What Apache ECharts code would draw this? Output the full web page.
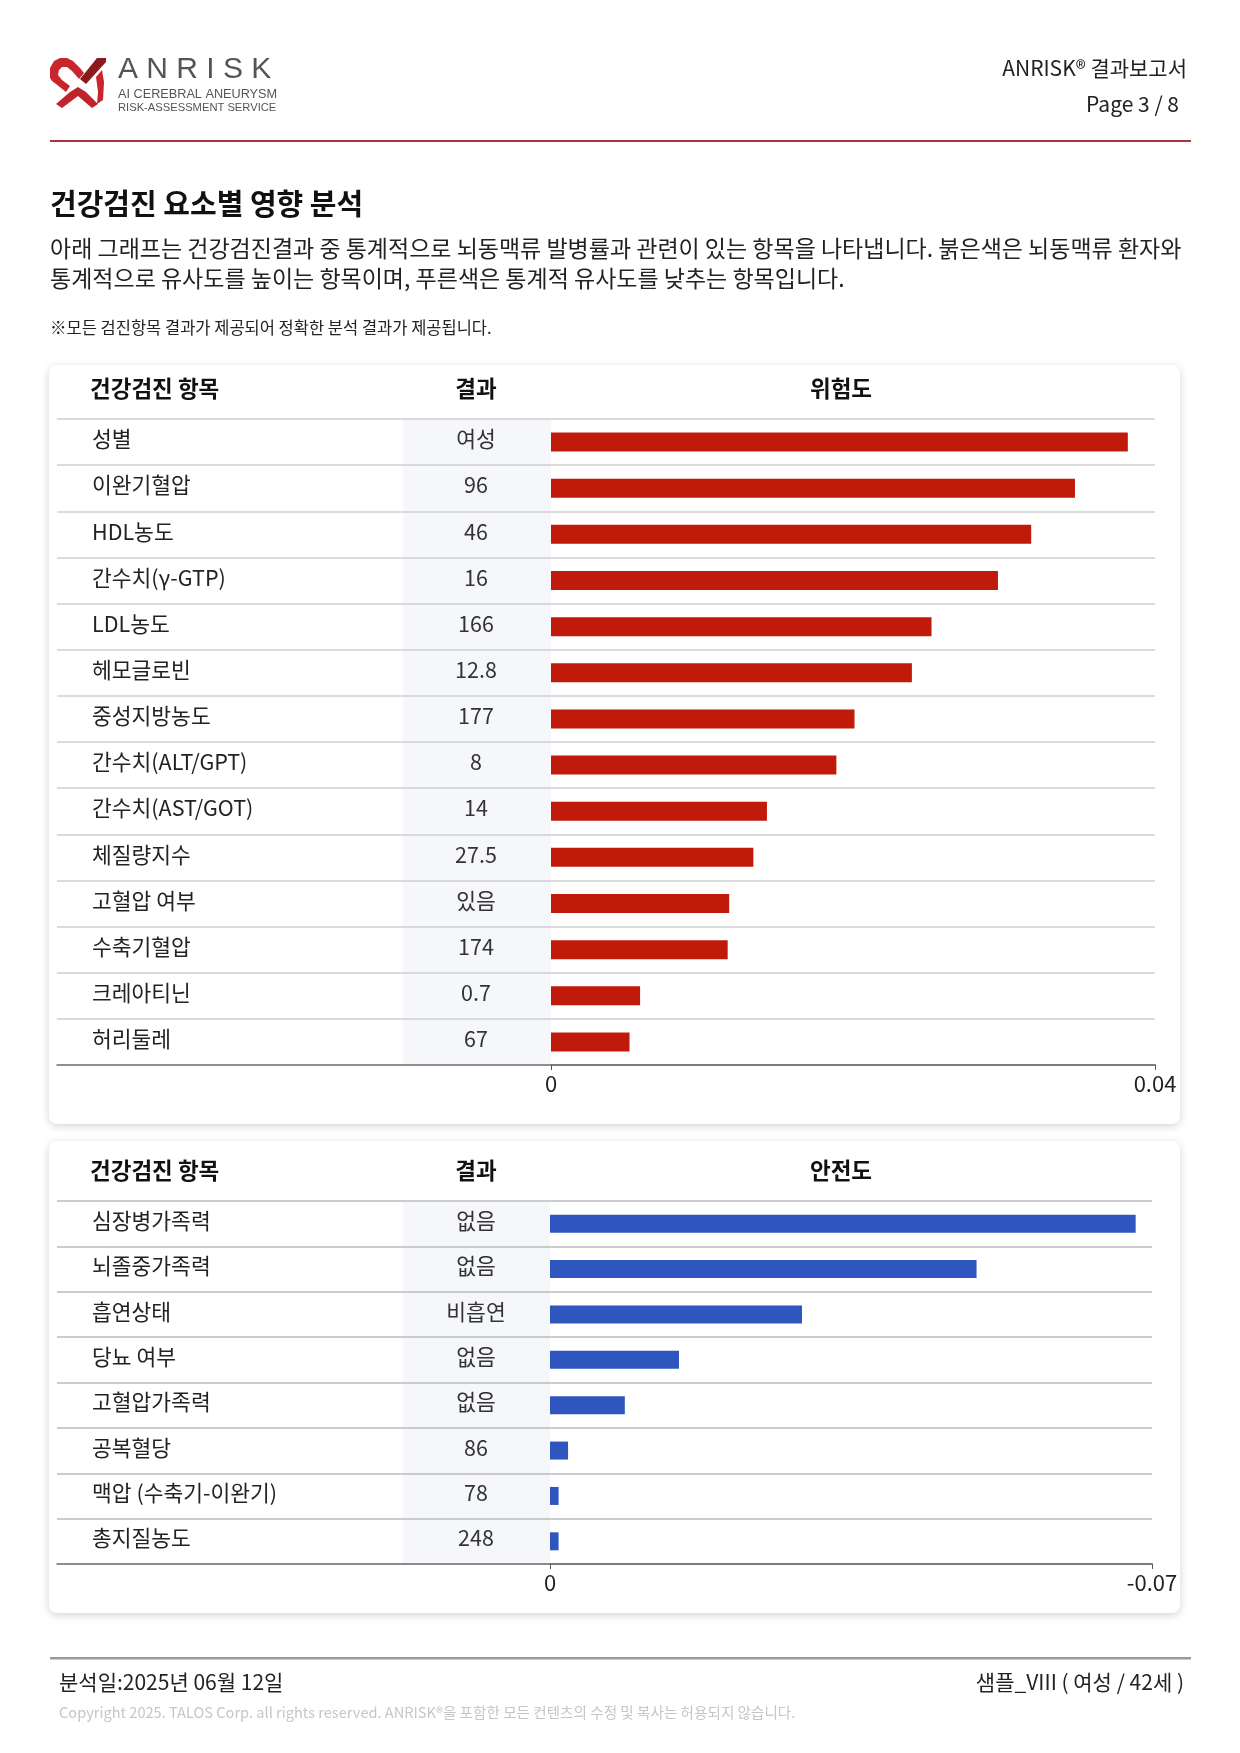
<!DOCTYPE html>
<html>
<head>
<meta charset="utf-8">
<script src="https://cdn.jsdelivr.net/npm/echarts@6/dist/echarts.min.js"></script>
<style>
html,body{margin:0;padding:0;background:#fff;}
#chart{width:1240px;height:1753px;}
</style>
</head>
<body>
<div id="chart"></div>
<script>
// ---- data ----
const riskItems = ['성별','이완기혈압','HDL농도','간수치(γ-GTP)','LDL농도','헤모글로빈','중성지방농도','간수치(ALT/GPT)','간수치(AST/GOT)','체질량지수','고혈압 여부','수축기혈압','크레아티닌','허리둘레'];
const riskResults = ['여성','96','46','16','166','12.8','177','8','14','27.5','있음','174','0.7','67'];
const riskValues = [0.0382,0.0347,0.0318,0.0296,0.0252,0.0239,0.0201,0.0189,0.0143,0.0134,0.0118,0.0117,0.0059,0.0052];
const riskAxis = {min:0, max:0.04};

const safeItems = ['심장병가족력','뇌졸중가족력','흡연상태','당뇨 여부','고혈압가족력','공복혈당','맥압 (수축기-이완기)','총지질농도'];
const safeResults = ['없음','없음','비흡연','없음','없음','86','78','248'];
const safeValues = [-0.0681,-0.0496,-0.0293,-0.0150,-0.0087,-0.0021,-0.0010,-0.0010];
const safeAxis = {min:-0.07, max:0};

// ---- styling ----
const FONT = '"Noto Sans CJK KR","Noto Sans",sans-serif';
const RED = '#c01a0b';
const BLUE = '#2f56be';

const chart = echarts.init(document.getElementById('chart'), null, {renderer:'canvas', width:1240, height:1753});

const T1 = {top:419, height:646};
const T2 = {top:1201, height:363};

function text(x,y,str,opt){
  return {type:'text', x:x, y:y, z:100, style:Object.assign({text:str, font:'400 20px '+FONT, fill:'#222', verticalAlign:'middle'}, opt||{})};
}
function poly(points, fill){
  return {type:'polygon', z:5, shape:{points:points}, style:{fill:fill}};
}

const graphics = [
  // cards
  {type:'rect', z:-10, shape:{x:49,y:365,width:1131,height:759,r:8}, style:{fill:'#fff', shadowBlur:8, shadowColor:'rgba(0,0,0,0.18)', shadowOffsetY:2}},
  {type:'rect', z:-10, shape:{x:49,y:1141,width:1131,height:472,r:8}, style:{fill:'#fff', shadowBlur:8, shadowColor:'rgba(0,0,0,0.18)', shadowOffsetY:2}},
  // result column shading
  {type:'rect', z:-5, shape:{x:403,y:T1.top,width:148,height:T1.height}, style:{fill:'#f5f7fb'}},
  {type:'rect', z:-5, shape:{x:403,y:T2.top,width:147,height:T2.height}, style:{fill:'#f5f7fb'}},
  // header rule
  {type:'rect', z:1, shape:{x:50,y:140,width:1141,height:2}, style:{fill:'#a8343c'}},
  // footer rule
  {type:'rect', z:1, shape:{x:50,y:1657,width:1141,height:2.5}, style:{fill:'#9a9a9a'}},
  // logo (approximation)
  poly([[50,78],[50,68],[54,61],[60,58],[67,58],[73,61],[80,68],[84,73],[79,79],[72,71],[67,67],[62,67],[59,70],[58,75],[62,80],[70,86],[66,92],[56,84],[52,81]], '#c8262c'),
  poly([[97,58],[106,58],[106,62],[86,84],[80,79]], '#8b1a1e'),
  poly([[56,104],[70,92],[78,87],[86,92],[98,104],[92,108],[78,96],[62,108]], '#c0232a'),
  poly([[96,77],[102,70],[104,82],[103,100],[97,104],[98,92]], '#c8262c'),
  text(118,70,'A N R I S K',{font:'300 30px "Liberation Sans","DejaVu Sans",sans-serif', fill:'#555'}),
  text(118,94,'AI CEREBRAL ANEURYSM',{font:'400 12.7px "Liberation Sans",sans-serif', fill:'#555'}),
  text(118,108,'RISK-ASSESSMENT SERVICE',{font:'400 11.2px "Liberation Sans",sans-serif', fill:'#555'}),
  text(1187,68,'ANRISK® 결과보고서',{font:'400 21px '+FONT, fill:'#222', align:'right'}),
  text(1179,104,'Page 3 / 8',{font:'400 21px '+FONT, fill:'#222', align:'right'}),
  // title & description
  text(50,204,'건강검진 요소별 영향 분석',{font:'700 29px '+FONT, fill:'#111'}),
  text(50,248,'아래 그래프는 건강검진결과 중 통계적으로 뇌동맥류 발병률과 관련이 있는 항목을 나타냅니다. 붉은색은 뇌동맥류 환자와',{font:'400 23px '+FONT, fill:'#222'}),
  text(50,278,'통계적으로 유사도를 높이는 항목이며, 푸른색은 통계적 유사도를 낮추는 항목입니다.',{font:'400 23px '+FONT, fill:'#222'}),
  text(50,328,'※모든 검진항목 결과가 제공되어 정확한 분석 결과가 제공됩니다.',{font:'400 16.5px '+FONT, fill:'#222'}),
  // table headers
  text(90,388,'건강검진 항목',{font:'700 22.5px '+FONT, fill:'#111'}),
  text(476,388,'결과',{font:'700 22.5px '+FONT, fill:'#111', align:'center'}),
  text(841,388,'위험도',{font:'700 22.5px '+FONT, fill:'#111', align:'center'}),
  text(90,1170,'건강검진 항목',{font:'700 22.5px '+FONT, fill:'#111'}),
  text(476,1170,'결과',{font:'700 22.5px '+FONT, fill:'#111', align:'center'}),
  text(841,1170,'안전도',{font:'700 22.5px '+FONT, fill:'#111', align:'center'}),
  // footer
  text(59,1682,'분석일:2025년 06월 12일',{font:'400 21px '+FONT, fill:'#222'}),
  text(1184,1682,'샘플_VIII ( 여성 / 42세 )',{font:'400 21px '+FONT, fill:'#222', align:'right'}),
  text(59,1712,'Copyright 2025. TALOS Corp. all rights reserved. ANRISK®을 포함한 모든 컨텐츠의 수정 및 복사는 허용되지 않습니다.',{font:'400 14.6px '+FONT, fill:'#c6c6c6'})
];

const rowLabel = {fontSize:21.5, fontFamily:FONT, verticalAlign:'bottom', lineHeight:6};
const option = {
  animation:false,
  textStyle:{fontFamily:FONT},
  graphic:{elements:graphics},
  grid:[
    {left:57, right:1240-1155, top:T1.top, height:T1.height},
    {left:551, right:1240-1155, top:T1.top, height:T1.height},
    {left:57, right:1240-1152, top:T2.top, height:T2.height},
    {left:550, right:1240-1152, top:T2.top, height:T2.height}
  ],
  xAxis:[
    {gridIndex:0, type:'value', min:0, max:1, z:3, axisLabel:{show:false}, axisTick:{show:false}, splitLine:{show:false}, axisLine:{show:true, lineStyle:{color:'#777', width:1.5}}},
    {gridIndex:1, type:'value', min:riskAxis.min, max:riskAxis.max, interval:riskAxis.max-riskAxis.min, z:3,
      axisLine:{show:true, lineStyle:{color:'#777', width:1.5}}, axisTick:{show:true, length:5, lineStyle:{color:'#555'}},
      splitLine:{show:false}, axisLabel:{fontSize:22, color:'#222', margin:8, fontFamily:FONT, showMinLabel:true, showMaxLabel:true}},
    {gridIndex:2, type:'value', min:0, max:1, z:3, axisLabel:{show:false}, axisTick:{show:false}, splitLine:{show:false}, axisLine:{show:true, lineStyle:{color:'#777', width:1.5}}},
    {gridIndex:3, type:'value', min:safeAxis.min, max:safeAxis.max, interval:safeAxis.max-safeAxis.min, inverse:true, z:3,
      axisLine:{show:true, lineStyle:{color:'#777', width:1.5}}, axisTick:{show:true, length:5, lineStyle:{color:'#555'}},
      splitLine:{show:false}, axisLabel:{fontSize:22, color:'#222', margin:8, fontFamily:FONT, showMinLabel:true, showMaxLabel:true}}
  ],
  yAxis:[
    {gridIndex:0, type:'category', data:riskItems, inverse:true, z:2, axisLine:{show:false}, axisTick:{show:false}, axisLabel:{show:false},
      splitLine:{show:true, lineStyle:{color:'#cfcfcf', width:1.5}}},
    {gridIndex:1, type:'category', data:riskItems, inverse:true, position:'left', z:3, axisLine:{show:false}, axisTick:{show:false},
      axisLabel:Object.assign({align:'left', margin:551-92, color:'#222'}, rowLabel)},
    {gridIndex:1, type:'category', data:riskResults, inverse:true, position:'left', z:3, axisLine:{show:false}, axisTick:{show:false},
      axisLabel:Object.assign({align:'center', margin:551-476, color:'#333'}, rowLabel)},
    {gridIndex:2, type:'category', data:safeItems, inverse:true, z:2, axisLine:{show:false}, axisTick:{show:false}, axisLabel:{show:false},
      splitLine:{show:true, lineStyle:{color:'#bdbdbd', width:1.5}}},
    {gridIndex:3, type:'category', data:safeItems, inverse:true, position:'left', z:3, axisLine:{show:false}, axisTick:{show:false},
      axisLabel:Object.assign({align:'left', margin:550-92, color:'#222'}, rowLabel)},
    {gridIndex:3, type:'category', data:safeResults, inverse:true, position:'left', z:3, axisLine:{show:false}, axisTick:{show:false},
      axisLabel:Object.assign({align:'center', margin:550-476, color:'#333'}, rowLabel)}
  ],
  series:[
    {type:'bar', xAxisIndex:1, yAxisIndex:1, data:riskValues, barWidth:19, z:5, itemStyle:{color:RED}, silent:true},
    {type:'bar', xAxisIndex:3, yAxisIndex:4, data:safeValues, barWidth:18, z:5, itemStyle:{color:BLUE}, silent:true}
  ]
};
chart.setOption(option);
</script>
</body>
</html>
